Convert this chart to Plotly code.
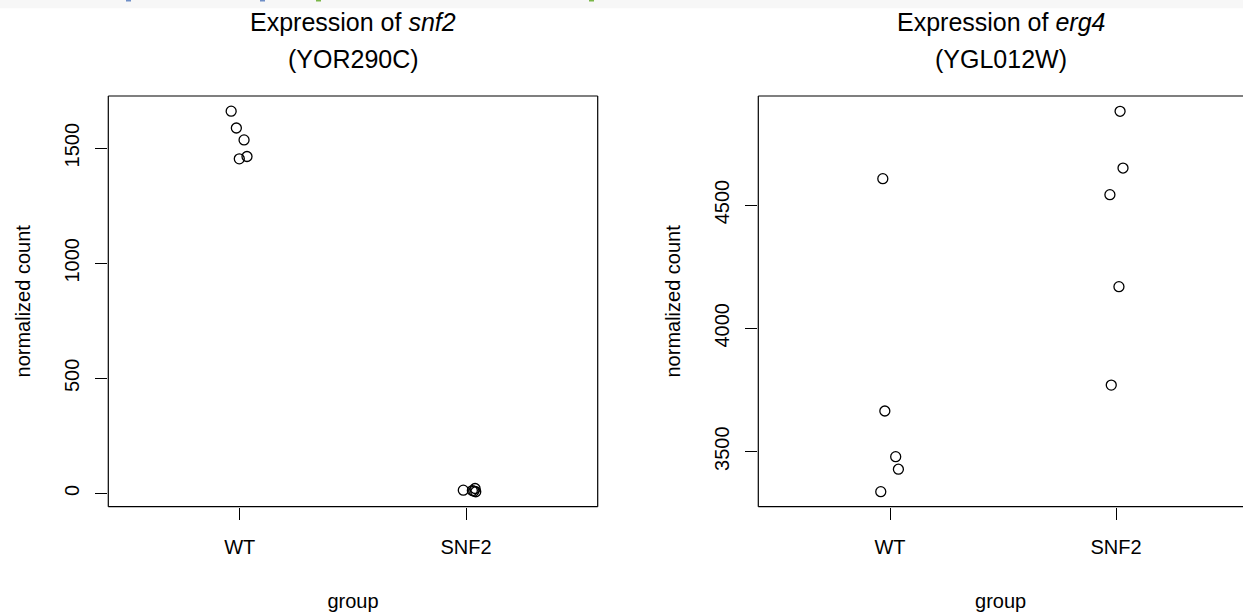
import plotly.graph_objects as go

# ---- data ----
groups = ["WT", "SNF2"]
group_pos = [1, 2]

# snf2 (YOR290C)
snf2_wt_x = [0.962, 0.985, 1.019, 0.998, 1.032]
snf2_wt_y = [1661, 1588, 1536, 1454, 1464]
snf2_mut_x = [1.988, 2.028, 2.040, 2.043, 2.035]
snf2_mut_y = [14, 12, 21, 7, 10]

# erg4 (YGL012W)
erg4_wt_x = [0.968, 0.977, 1.025, 1.037, 0.959]
erg4_wt_y = [4607, 3665, 3480, 3429, 3338]
erg4_mut_x = [2.018, 2.031, 1.973, 2.013, 1.979]
erg4_mut_y = [4880, 4650, 4542, 4169, 3770]

snf2_ticks = [0, 500, 1000, 1500]
erg4_ticks = [3500, 4000, 4500]

W, H = 1243, 612
FONT = "Liberation Sans, Arial, Helvetica, sans-serif"
BASE = 20
TITLE = 25

def px_x(p):
    return p / W

def px_y(p):
    return 1 - p / H

left_dom = [px_x(108.3), px_x(597.7)]
right_dom = [px_x(758.3), 1.0]
y_dom = [px_y(506.7), px_y(96)]

fig = go.Figure()
marker = dict(symbol="circle-open", size=10, color="black", line=dict(width=1.3, color="black"))
fig.add_trace(go.Scatter(x=snf2_wt_x + snf2_mut_x, y=snf2_wt_y + snf2_mut_y,
                         mode="markers", marker=marker, xaxis="x", yaxis="y",
                         showlegend=False, hoverinfo="y"))
fig.add_trace(go.Scatter(x=erg4_wt_x + erg4_mut_x, y=erg4_wt_y + erg4_mut_y,
                         mode="markers", marker=marker, xaxis="x2", yaxis="y2",
                         showlegend=False, hoverinfo="y"))

axis_common = dict(showgrid=False, zeroline=False, showline=False,
                   ticks="outside", ticklen=12, tickwidth=1, tickcolor="black",
                   tickfont=dict(family=FONT, size=BASE, color="black"))

fig.update_layout(
    width=W, height=H,
    margin=dict(l=0, r=0, t=0, b=0),
    paper_bgcolor="white", plot_bgcolor="white",
    font=dict(family=FONT, size=BASE, color="black"),
    xaxis=dict(domain=left_dom, range=[0.419, 2.582], tickvals=group_pos, ticktext=groups,
               anchor="y", ticklabelstandoff=10,
               title=dict(text="group", standoff=38, font=dict(family=FONT, size=BASE)),
               **axis_common),
    yaxis=dict(domain=y_dom, range=[-58, 1727], tickvals=snf2_ticks, tickangle=-90,
               anchor="x", ticklabelstandoff=8,
               title=dict(text="normalized count", standoff=25, font=dict(family=FONT, size=BASE)),
               **axis_common),
    xaxis2=dict(domain=right_dom, range=[0.417, 2.562], tickvals=group_pos, ticktext=groups,
                anchor="y2", ticklabelstandoff=10,
                title=dict(text="group", standoff=38, font=dict(family=FONT, size=BASE)),
                **axis_common),
    yaxis2=dict(domain=y_dom, range=[3277, 4942], tickvals=erg4_ticks, tickangle=-90,
                anchor="x2", ticklabelstandoff=8,
                title=dict(text="normalized count", standoff=25, font=dict(family=FONT, size=BASE)),
                **axis_common),
)

# plot boxes (right panel's right edge lies outside the visible page)
box = dict(type="line", line=dict(color="black", width=1.2), layer="above")
for xr, yr, sides in [("x domain", "y domain", "tlbr"), ("x2 domain", "y2 domain", "tlb")]:
    if "t" in sides:
        fig.add_shape(x0=0, x1=1, y0=1, y1=1, xref=xr, yref=yr, **box)
    if "b" in sides:
        fig.add_shape(x0=0, x1=1, y0=0, y1=0, xref=xr, yref=yr, **box)
    if "l" in sides:
        fig.add_shape(x0=0, x1=0, y0=0, y1=1, xref=xr, yref=yr, **box)
    if "r" in sides:
        fig.add_shape(x0=1, x1=1, y0=0, y1=1, xref=xr, yref=yr, **box)

# titles
titles = [("Expression of <i>snf2</i>", "(YOR290C)", "x domain"),
          ("Expression of <i>erg4</i>", "(YGL012W)", "x2 domain")]
for l1, l2, xr in titles:
    fig.add_annotation(text=l1, x=0.5, xref=xr, y=px_y(22), yref="paper",
                       xanchor="center", yanchor="middle", showarrow=False,
                       font=dict(family=FONT, size=TITLE, color="black"))
    fig.add_annotation(text=l2, x=0.5, xref=xr, y=px_y(59), yref="paper",
                       xanchor="center", yanchor="middle", showarrow=False,
                       font=dict(family=FONT, size=TITLE, color="black"))

# light grey strip along the top edge of the page
fig.add_shape(type="rect", xref="paper", yref="paper", x0=0, x1=1, y0=px_y(8.3), y1=1,
              fillcolor="#f7f7f7", line=dict(width=0), layer="below")
for x0, col in [(126, "#6f8fc7"), (260, "#6f8fc7"), (316, "#7ab648"), (589, "#7ab648")]:
    fig.add_shape(type="rect", xref="paper", yref="paper", x0=px_x(x0), x1=px_x(x0 + 5),
                  y0=px_y(1.5), y1=1, fillcolor=col, line=dict(width=0), layer="below")

fig.write_html("out.html",
               config={"displayModeBar": False},
               post_script="document.body.style.margin='0';document.body.style.overflow='hidden';")
